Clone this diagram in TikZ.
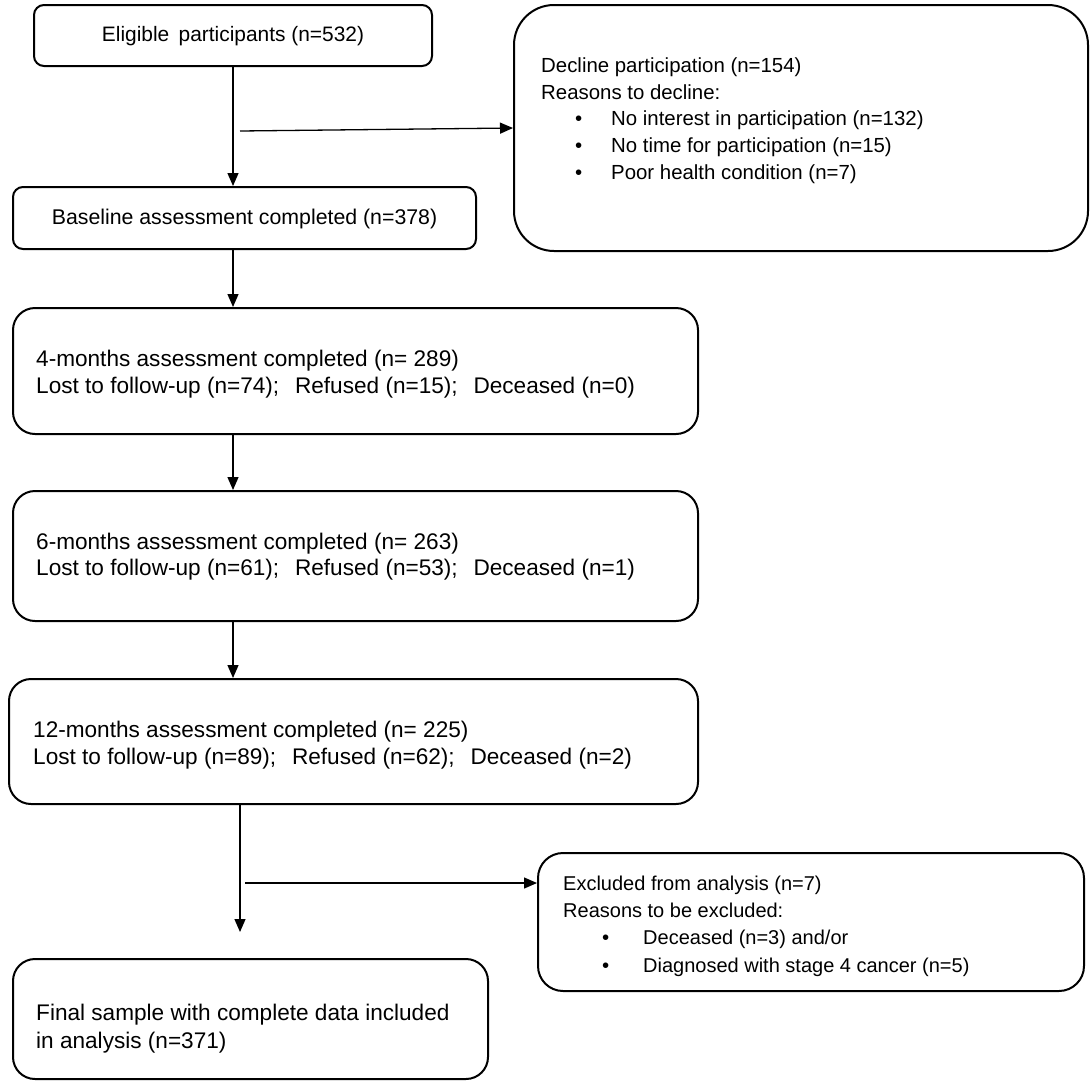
\documentclass[tikz,border=0pt]{standalone}
\usepackage{fontspec}
\setmainfont{Liberation Sans}
\usetikzlibrary{arrows.meta}
\newcommand{\gapsp}{\hspace{0.7em}}
\begin{document}
\begin{tikzpicture}[x=1pt,y=-1pt,
  box/.style={draw, line width=2pt, rounded corners=#1, inner sep=0pt, anchor=north west},
  txt/.style={anchor=base west, inner sep=0pt, font=\fontsize{20.4}{27}\selectfont},
  mtxt/.style={anchor=base west, inner sep=0pt, font=\fontsize{22.6}{27}\selectfont},
  ctxt/.style={inner sep=0pt, font=\fontsize{#1}{27}\selectfont},
  arr/.style={-{Triangle[length=13pt,width=11pt]}, line width=1.3pt}]
\useasboundingbox[fill=white] (0,0) rectangle (1092,1085);
% boxes
\node[box=10pt, minimum width=398pt, minimum height=61pt] (elig) at (33,4) {};
\node[box=40pt, minimum width=574pt, minimum height=246pt] (decl) at (513,4) {};
\node[box=10pt, minimum width=463pt, minimum height=62pt] (base) at (12,186) {};
\node[box=22pt, minimum width=685pt, minimum height=126pt] (m4) at (12,307) {};
\node[box=22pt, minimum width=685pt, minimum height=130pt] (m6) at (12,490) {};
\node[box=22pt, minimum width=689pt, minimum height=125pt] (m12) at (8,678) {};
\node[box=25pt, minimum width=546pt, minimum height=138pt] (excl) at (537,852) {};
\node[box=22pt, minimum width=475pt, minimum height=120pt] (fin) at (12,958) {};
% texts
\node[ctxt=20.9] (t1) at ([yshift=-1pt]elig) {Eligible\hspace{0.45em}participants (n=532)};
\node[ctxt=21.3] (t2) at ([yshift=-1pt]base) {Baseline assessment completed (n=378)};
\node[txt] (d1) at (541,72) {Decline participation (n=154)};
\node[txt] (d2) at (541,99) {Reasons to decline:};
\node[txt] (db1) at (575,125) {•};
\node[txt] (d3) at (611,125) {No interest in participation (n=132)};
\node[txt] (db2) at (575,152) {•};
\node[txt] (d4) at (611,152) {No time for participation (n=15)};
\node[txt] (db3) at (575,179) {•};
\node[txt] (d5) at (611,179) {Poor health condition (n=7)};
\node[mtxt] (a1) at (36,366) {4-months assessment completed (n= 289)};
\node[mtxt] (a2) at (36,393) {Lost to follow-up (n=74);\gapsp Refused (n=15);\gapsp Deceased (n=0)};
\node[mtxt] (b1) at (36,549) {6-months assessment completed (n= 263)};
\node[mtxt] (b2) at (36,575) {Lost to follow-up (n=61);\gapsp Refused (n=53);\gapsp Deceased (n=1)};
\node[mtxt] (c1) at (33,737) {12-months assessment completed (n= 225)};
\node[mtxt] (c2) at (33,764) {Lost to follow-up (n=89);\gapsp Refused (n=62);\gapsp Deceased (n=2)};
\node[mtxt] (f1) at (36,1020) {Final sample with complete data included};
\node[mtxt] (f2) at (36,1048) {in analysis (n=371)};
\node[txt, font=\fontsize{20}{27}\selectfont] (e1) at (563,890) {Excluded from analysis (n=7)};
\node[txt, font=\fontsize{20}{27}\selectfont] (e2) at (563,917) {Reasons to be excluded:};
\node[txt] (eb1) at (602,944) {•};
\node[txt, font=\fontsize{20}{27}\selectfont] (e3) at (643,944) {Deceased (n=3)\ and/or};
\node[txt] (eb2) at (602,972) {•};
\node[txt, font=\fontsize{20}{27}\selectfont] (e4) at (643,972) {Diagnosed with stage 4 cancer (n=5)};
% connectors
\coordinate (spine) at (233,0);
\coordinate (spineb) at (240,0);
\coordinate (dstart) at (240,131);
\coordinate (estart) at (245,883);
\coordinate (fend) at (240,932);
\draw[arr] (elig.south -| spine) -- (base.north -| spine);
\draw[arr] (dstart) -- ([yshift=3pt]dstart -| decl.west);
\draw[arr] (base.south -| spine) -- (m4.north -| spine);
\draw[arr] (m4.south -| spine) -- (m6.north -| spine);
\draw[arr] (m6.south -| spine) -- (m12.north -| spine);
\draw[arr] (m12.south -| spineb) -- (fend);
\draw[arr] (estart) -- (estart -| excl.west);
\end{tikzpicture}
\end{document}
